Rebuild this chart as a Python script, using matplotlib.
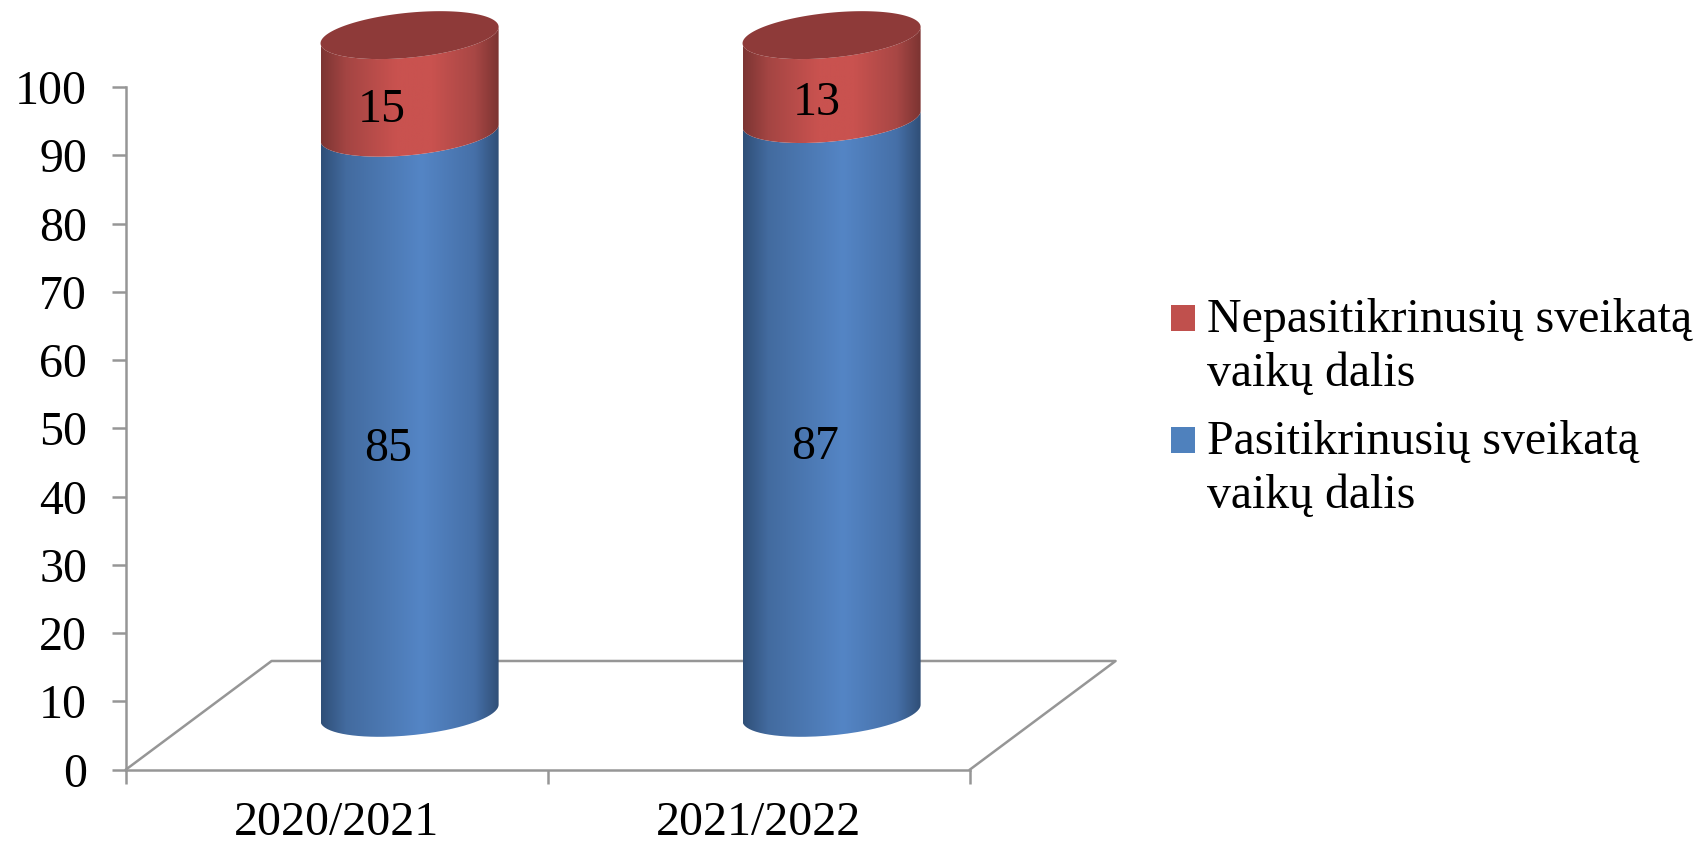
import numpy as np
import matplotlib
matplotlib.use("Agg")
import matplotlib.pyplot as plt
from matplotlib.colors import LinearSegmentedColormap
from matplotlib.patches import PathPatch, Rectangle
from matplotlib.path import Path

plt.rcParams['font.family'] = ['Liberation Serif', 'DejaVu Serif']

# data
categories = ["2020/2021", "2021/2022"]
checked = [85, 87]
not_checked = [15, 13]
checked_label = "Pasitikrinusių sveikatą\nvaikų dalis"
not_checked_label = "Nepasitikrinusių sveikatą\nvaikų dalis"
y_ticks = [0, 10, 20, 30, 40, 50, 60, 70, 80, 90, 100]

# fake 3d look
depth_x = 0.345
depth_y = 15.9
cyl_dx = 0.172
cyl_half = 0.211
cyl_base = 8.3
cyl_scale = 1.0
cyl_top_trim = 0.7
ell_b = 3.3
ell_s = 1.2

W, H = 1704, 847
GREY = "#969696"
FS = 34.5

blue_map = LinearSegmentedColormap.from_list("b", [(0, "#2f4f78"), (0.14, "#436b9f"), (0.56, "#5485c5"),
                                                   (0.86, "#4670a8"), (1, "#2f4d75")])
red_map = LinearSegmentedColormap.from_list("r", [(0, "#7c3533"), (0.14, "#a44543"), (0.42, "#c9524f"), (0.62, "#c9524f"),
                                                  (0.86, "#a84745"), (1, "#7a3331")])


def lower_edge(cx, cy):
    t = np.linspace(np.pi, 2 * np.pi, 80)
    return cx + cyl_half * np.cos(t), cy + ell_s * np.cos(t) + ell_b * np.sin(t)


def side(ax, cx, y0, y1, cmap, z):
    xb, yb = lower_edge(cx, y0)
    xt, yt = lower_edge(cx, y1)
    verts = np.vstack([np.column_stack([xb, yb]), np.column_stack([xt[::-1], yt[::-1]]), [[xb[0], yb[0]]]])
    patch = PathPatch(Path(verts), transform=ax.transData, fc="none", ec="none")
    grad = np.linspace(0, 1, 256).reshape(1, -1)
    im = ax.imshow(grad, cmap=cmap, aspect="auto", zorder=z,
                   extent=[cx - cyl_half, cx + cyl_half, y0 - 6, y1 + 6])
    im.set_clip_path(patch)
    im.set_clip_box(ax.figure.bbox)


def cap(ax, cx, cy, color, z):
    t = np.linspace(0, 2 * np.pi, 160)
    ax.fill(cx + cyl_half * np.cos(t), cy + ell_s * np.cos(t) + ell_b * np.sin(t),
            color=color, lw=0, zorder=z, clip_on=False)


fig = plt.figure(figsize=(W / 100, H / 100), dpi=100)
ax = fig.add_axes([126 / W, 1 - 769.5 / H, (970 - 126) / W, (769.5 - 87) / H])
ax.set_xlim(0, 2)
ax.set_ylim(0, 100)
ax.set_autoscale_on(False)

# floor
ax.plot([0, depth_x, 2 + depth_x, 2], [0, depth_y, depth_y, 0], color=GREY, lw=1.8, zorder=1, clip_on=False)

for i in range(len(categories)):
    cx = i + 0.5 + cyl_dx
    y_mid = cyl_base + cyl_scale * checked[i]
    y_top = cyl_base + cyl_scale * (checked[i] + not_checked[i]) - cyl_top_trim
    side(ax, cx, cyl_base, y_mid, blue_map, 2)
    side(ax, cx, y_mid, y_top, red_map, 3)
    cap(ax, cx, y_top, "#8e3a39", 4)

label_dx = [[-0.05, -0.067], [-0.04, -0.036]]
label_dy = [[-3.9, -4.2], [-4.6, -4.2]]
for i in range(len(categories)):
    cx = i + 0.5 + cyl_dx
    y_mid = cyl_base + cyl_scale * checked[i]
    ax.text(cx + label_dx[i][0], (cyl_base + y_mid) / 2 + label_dy[i][0], str(checked[i]), ha="center", va="center",
            fontsize=FS, color="black", zorder=6)
    ax.text(cx + label_dx[i][1], y_mid + cyl_scale * not_checked[i] / 2 + label_dy[i][1], str(not_checked[i]),
            ha="center", va="center", fontsize=FS, color="black", zorder=6)

for s in ["top", "right"]:
    ax.spines[s].set_visible(False)
for s in ["left", "bottom"]:
    ax.spines[s].set_color(GREY)
    ax.spines[s].set_linewidth(1.8)

ax.set_yticks(y_ticks)
ax.tick_params(axis="y", length=10, width=1.8, color=GREY, labelsize=FS, pad=18)
ax.set_xticks([0, 1, 2])
ax.set_xticklabels([])
ax.tick_params(axis="x", which="major", length=10, width=1.8, color=GREY)
ax.set_xticks([i + 0.5 for i in range(len(categories))], minor=True)
ax.set_xticklabels(categories, minor=True)
ax.tick_params(axis="x", which="minor", length=0, labelsize=FS, pad=23)

# legend, swatch lines up with first text line
leg_items = [(not_checked_label, "#c0504d", 318), (checked_label, "#4f81bd", 440)]
for lab, col, ypix in leg_items:
    fig.add_artist(Rectangle((1171 / W, 1 - (ypix + 13) / H), 24 / W, 26 / H, transform=fig.transFigure,
                             fc=col, ec="none"))
    fig.text(1207 / W, 1 - (ypix - 20) / H, lab, fontsize=FS, va="top", ha="left", linespacing=1.285)

fig.savefig("out.png", dpi=100)
